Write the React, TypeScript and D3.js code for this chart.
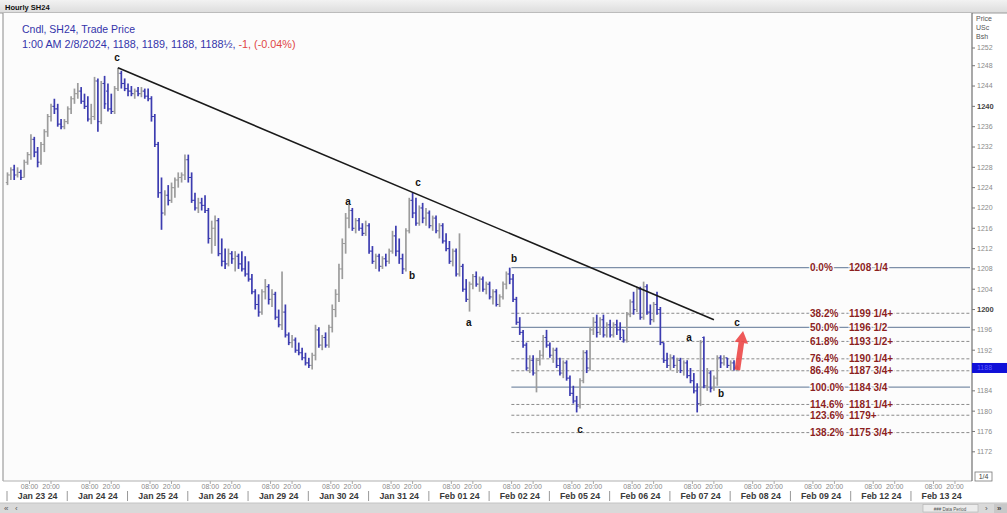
import React from "react";
import * as d3 from "d3";

type Bar = [number, number, number, number]; // open, high, low, close

const dayLabels = ["Jan 23 24", "Jan 24 24", "Jan 25 24", "Jan 26 24", "Jan 29 24", "Jan 30 24", "Jan 31 24", "Feb 01 24", "Feb 02 24", "Feb 05 24", "Feb 06 24", "Feb 07 24", "Feb 08 24", "Feb 09 24", "Feb 12 24", "Feb 13 24"];
const hourLabels = ["08:00", "20:00"];

const jan23: Bar[] = [
  [1225, 1227, 1224.5, 1226.5], [1226.5, 1228, 1225.5, 1227.5], [1227.5, 1228.5, 1225.5, 1226.5], [1226.5, 1228, 1226, 1227],
  [1227, 1227.5, 1225.5, 1226], [1226, 1229.5, 1226, 1229], [1229, 1231, 1228.5, 1230.5], [1230.5, 1234.5, 1229.5, 1233.5],
  [1233.5, 1234, 1230, 1231], [1231, 1232, 1228, 1229], [1229, 1233, 1228.5, 1232.5], [1232.5, 1235.5, 1231, 1235],
  [1235, 1238.5, 1234, 1238], [1238, 1240.5, 1237, 1240], [1240, 1241.5, 1238.5, 1239.5], [1239.5, 1240.5, 1236, 1236.5],
  [1236.5, 1237.5, 1235.5, 1236], [1236, 1237.5, 1235.5, 1237],
];
const jan24: Bar[] = [
  [1237, 1240, 1236.5, 1239.5], [1239.5, 1242, 1238.5, 1241.5], [1241.5, 1243.5, 1240.5, 1242.5], [1242.5, 1244.6, 1241.5, 1243],
  [1243, 1243.8, 1240.5, 1241], [1241, 1242.5, 1239.5, 1240], [1240, 1242, 1237, 1237.5], [1237.5, 1240.5, 1236.5, 1238],
  [1238, 1245.8, 1237.3, 1245], [1245, 1245.5, 1235, 1237], [1237, 1245, 1236.5, 1244.5], [1244.5, 1246, 1239.5, 1240.5],
  [1243, 1244.5, 1239, 1239.5], [1239.5, 1242.5, 1238.5, 1239], [1239, 1244, 1238.5, 1243.5], [1243.5, 1247.6, 1243, 1246.5],
  [1246.5, 1247, 1243.5, 1244.5], [1244.5, 1245.5, 1243, 1243.5],
];
const jan25: Bar[] = [
  [1243.5, 1244.5, 1242, 1243], [1243, 1244, 1242, 1242.5], [1242.5, 1243.5, 1241.5, 1243], [1243, 1243.8, 1242, 1242.5],
  [1242.5, 1243.8, 1241.8, 1243], [1243, 1243.5, 1241.5, 1242], [1242, 1243.5, 1241, 1241.5], [1241.5, 1242, 1237, 1238],
  [1238, 1238.5, 1232, 1232.5], [1232.5, 1233, 1222, 1223], [1223, 1226, 1215.7, 1219], [1219, 1223.5, 1218.5, 1222.5],
  [1222.5, 1224.5, 1220.5, 1221.5], [1221.5, 1225, 1221, 1224], [1224, 1226, 1222, 1225.5], [1225.5, 1227, 1224, 1226],
  [1226, 1227, 1225, 1226.5], [1226.5, 1230.5, 1225.5, 1229.5],
];
const jan26: Bar[] = [
  [1229.5, 1230.5, 1225, 1226], [1226, 1227, 1221, 1221.5], [1221.5, 1223, 1219.5, 1220], [1220, 1222, 1219, 1221],
  [1221, 1222, 1219.5, 1220.5], [1220.5, 1222.5, 1219, 1219.5], [1219.5, 1220, 1213, 1214], [1214, 1217.5, 1211, 1216],
  [1216, 1218.5, 1212.5, 1217.5], [1217.5, 1218, 1210.5, 1211], [1211, 1214, 1208.5, 1209.5], [1209.5, 1212, 1208, 1209],
  [1209, 1212, 1208.5, 1211], [1211, 1211.5, 1209, 1210], [1210, 1211.5, 1207.5, 1210.5], [1210.5, 1211, 1208, 1209],
  [1209, 1211.5, 1207.5, 1208], [1208, 1210.5, 1206.5, 1207],
];
const jan29: Bar[] = [
  [1207, 1209.5, 1205.5, 1206], [1206, 1207, 1203, 1203.5], [1203.5, 1204, 1200, 1201], [1201, 1203, 1198.6, 1199.5],
  [1199.5, 1204, 1199, 1203.5], [1203.5, 1206, 1202, 1204.5], [1204.5, 1205, 1201, 1202], [1202, 1204, 1200.5, 1203],
  [1203, 1203.5, 1198, 1198.5], [1198.5, 1200, 1196.5, 1197], [1197, 1207.5, 1196, 1199.5], [1199.5, 1201, 1194.5, 1195],
  [1195, 1195.5, 1193, 1193.5], [1193.5, 1195, 1192.5, 1194], [1194, 1194.5, 1191.5, 1192], [1192, 1193.5, 1191, 1191.5],
  [1191.5, 1192.5, 1190, 1190.5], [1190.5, 1191.5, 1189, 1189.5],
];
const jan30: Bar[] = [
  [1189.5, 1190.5, 1188.5, 1189], [1189, 1191.5, 1188.2, 1191], [1191, 1197, 1190, 1196], [1196, 1196.5, 1192.5, 1193],
  [1193, 1195, 1192, 1194.5], [1194.5, 1195.5, 1192.5, 1193], [1193, 1197, 1192.5, 1196.5], [1196.5, 1201, 1195.5, 1200],
  [1200, 1204, 1198.5, 1203], [1203, 1209, 1201.5, 1208], [1208, 1214, 1206, 1213], [1213, 1219, 1211, 1218],
  [1218, 1220.6, 1216, 1219.5], [1219.5, 1220, 1215.5, 1216], [1216, 1218, 1215, 1217.5], [1217.5, 1218, 1215.5, 1216],
  [1216, 1217, 1214.5, 1215], [1215, 1217.5, 1214.5, 1216.5],
];
const jan31: Bar[] = [
  [1216.5, 1217, 1211, 1211.5], [1211.5, 1212.5, 1209, 1209.5], [1209.5, 1211, 1208, 1210.5], [1210.5, 1211, 1207.5, 1208.5],
  [1208.5, 1210.5, 1208, 1210], [1210, 1211, 1208.5, 1209.5], [1209.5, 1212, 1209, 1211.5], [1211.5, 1215.5, 1211, 1214.5],
  [1214.5, 1216.5, 1210.5, 1211.5], [1211.5, 1214, 1209, 1210], [1210, 1211, 1207, 1208], [1208, 1216, 1207.5, 1215.5],
  [1215.5, 1222, 1215, 1221.5], [1221.5, 1223, 1218, 1219], [1219, 1222, 1216.5, 1217], [1217, 1220.5, 1216.5, 1220],
  [1220, 1221, 1217, 1218], [1218, 1220, 1216.5, 1219],
];
const feb01: Bar[] = [
  [1219, 1219.5, 1216, 1216.5], [1216.5, 1218.5, 1215.5, 1218], [1218, 1218.5, 1215, 1215.5], [1215.5, 1217, 1214, 1216.5],
  [1216.5, 1217, 1213, 1213.5], [1213.5, 1215, 1211.5, 1212], [1212, 1213.5, 1209, 1209.5], [1209.5, 1212, 1208.5, 1211.5],
  [1211.5, 1212, 1206.5, 1207], [1207, 1215, 1206.5, 1208.5], [1208.5, 1209, 1203.5, 1204], [1204, 1206, 1201.5, 1202],
  [1202, 1205.5, 1199.6, 1205], [1205, 1207, 1204, 1206.5], [1206.5, 1207.5, 1204.5, 1205], [1205, 1206.5, 1203.5, 1206],
  [1206, 1206.5, 1203.5, 1204], [1204, 1205.5, 1203, 1205],
];
const feb02: Bar[] = [
  [1205, 1205.5, 1202, 1202.5], [1202.5, 1204, 1201, 1203.5], [1203.5, 1204, 1200.6, 1201], [1201, 1203, 1200.5, 1202.5],
  [1202.5, 1205.5, 1202, 1205], [1205, 1207.5, 1204, 1207], [1207, 1208.25, 1205, 1206], [1206, 1207, 1201.5, 1202],
  [1202, 1202.5, 1197, 1197.5], [1197.5, 1198.5, 1195, 1195.5], [1195.5, 1196, 1192.5, 1193], [1193, 1193.5, 1188, 1188.5],
  [1188.5, 1191, 1187.5, 1190], [1190, 1191, 1187, 1187.5], [1187.5, 1190.5, 1183.7, 1190], [1190, 1192, 1189, 1191],
  [1191, 1195, 1190.5, 1194.5], [1194.5, 1196, 1192.5, 1193],
];
const feb05: Bar[] = [
  [1193, 1193.5, 1190.5, 1191], [1191, 1192.5, 1189.5, 1192], [1192, 1192.5, 1188.5, 1189], [1189, 1190.5, 1187, 1187.5],
  [1187.5, 1190, 1186.5, 1189.5], [1189.5, 1190, 1186, 1186.5], [1186.5, 1187, 1183, 1183.5], [1183.5, 1185, 1181.5, 1182],
  [1182, 1183, 1179.75, 1181], [1181, 1186.5, 1180.5, 1186], [1186, 1192, 1185.5, 1191.5], [1191.5, 1192, 1187.5, 1188.5],
  [1188.5, 1196.5, 1188, 1196], [1196, 1198.5, 1195, 1197.5], [1197.5, 1199, 1194.5, 1195.5], [1195.5, 1198.5, 1195, 1198],
  [1198, 1199, 1194.5, 1195], [1195, 1197.5, 1194.5, 1197],
];
const feb06: Bar[] = [
  [1197, 1198, 1194.5, 1195], [1195, 1197.5, 1194.5, 1197], [1197, 1198, 1195, 1196], [1196, 1197.5, 1194, 1194.5],
  [1196, 1196, 1193.5, 1194], [1194, 1199.5, 1193.5, 1199], [1199, 1202, 1198.5, 1201.5], [1201.5, 1203.5, 1199, 1200],
  [1200, 1204.5, 1199.5, 1204], [1204, 1204.5, 1198, 1198.5], [1198.5, 1205.5, 1198, 1204.5], [1204.5, 1205, 1199, 1199.5],
  [1199.5, 1201, 1197, 1198], [1198, 1201.5, 1197.5, 1201], [1201, 1203.5, 1199, 1200], [1200, 1200.5, 1193, 1193.5],
  [1193.5, 1193.5, 1189.5, 1190], [1190, 1191.5, 1188.5, 1189],
];
const feb07: Bar[] = [
  [1189, 1191.2, 1188, 1190.5], [1190.5, 1191, 1188.5, 1189], [1189, 1190.5, 1187.5, 1190], [1190, 1190.5, 1187.5, 1188],
  [1188, 1190, 1187, 1189.5], [1189.5, 1190, 1186.5, 1187], [1187, 1188.5, 1185.5, 1186], [1186, 1187.5, 1183.5, 1184],
  [1184, 1185.5, 1179.75, 1181.5], [1181.5, 1194, 1181, 1193.5], [1194.5, 1194.7, 1184.5, 1185], [1185, 1188.5, 1184, 1187.5],
  [1187.5, 1188, 1183.7, 1184.5], [1184.5, 1187, 1184, 1186.5], [1186.5, 1191, 1185, 1190.5], [1190.5, 1191, 1188.5, 1189.5],
  [1189.5, 1191, 1189, 1190.5], [1190.5, 1190.5, 1188.5, 1189],
];
const feb08: Bar[] = [
  [1189, 1190, 1188, 1189.5], [1189.5, 1190, 1188, 1188.5], [1188, 1189, 1188, 1188.5],
];
const sessions: Bar[][] = [jan23, jan24, jan25, jan26, jan29, jan30, jan31, feb01, feb02, feb05, feb06, feb07, feb08];

const priceTicks = [1172, 1176, 1180, 1184, 1188, 1192, 1196, 1200, 1204, 1208, 1212, 1216, 1220, 1224, 1228, 1232, 1236, 1240, 1244, 1248, 1252];
const majorTicks = [1200, 1240];

const fibPct = ["0.0%", "38.2%", "50.0%", "61.8%", "76.4%", "86.4%", "100.0%", "114.6%", "123.6%", "138.2%"];
const fibPrice = [1208.25, 1199.27, 1196.5, 1193.73, 1190.3, 1187.95, 1184.75, 1181.32, 1179.2, 1175.78];
const fibText = ["1208 1/4", "1199 1/4+", "1196 1/2", "1193 1/2+", "1190 1/4+", "1187 3/4+", "1184 3/4", "1181 1/4+", "1179+", "1175 3/4+"];
const fibSolid = [true, false, true, false, false, false, true, false, false, false];

const waveText = ["c", "a", "b", "c", "a", "b", "c", "a", "b", "c"];
const waveSlot = [32.7, 101.7, 120.8, 122.6, 137.8, 151.3, 171, 203.6, 213.1, 217.9];
const wavePrice = [1249.7, 1221.2, 1206.8, 1225.1, 1197.5, 1210, 1176.5, 1194.6, 1183.4, 1197.4];

const trendSlot = [33, 211];
const trendPrice = [1247.6, 1198];
const arrowSlot = [218, 219.7];
const arrowPrice = [1188.1, 1195.8];
const lastPrice = 1188.5;

const W = 1007, H = 513;
const BARS_PER_DAY = 18;
const UP = "#9c9c9c", DOWN = "#3c3cb0";
const SANS = "'Liberation Sans', Arial, sans-serif";

export default function App() {
  const xs = d3.scaleLinear().domain([0, 16 * BARS_PER_DAY]).range([7.5, 7.5 + 16 * BARS_PER_DAY * 3.348]);
  const ys = d3.scaleLinear().domain([1172, 1252]).range([451.8, 45.4]);

  const bars: { x: number; b: Bar }[] = [];
  sessions.forEach((day, d) => day.forEach((b, s) => bars.push({ x: xs(d * BARS_PER_DAY + s), b })));

  const plotL = 3, plotR = 972, plotT = 13, plotB = 481;
  const fibX0 = xs(150.5);

  const ax0 = xs(arrowSlot[0]), ay0 = ys(arrowPrice[0]);
  const ax1 = xs(arrowSlot[1]), ay1 = ys(arrowPrice[1]);
  const len = Math.hypot(ax1 - ax0, ay1 - ay0);
  const ux = (ax1 - ax0) / len, uy = (ay1 - ay0) / len;
  const nx = -uy, ny = ux;
  const headL = 12, sw = 2.8, hw = 6.8;
  const bx = ax1 - ux * headL, by = ay1 - uy * headL;
  const pts = [
    [ax0 + nx * sw, ay0 + ny * sw], [bx + nx * sw, by + ny * sw], [bx + nx * hw, by + ny * hw], [ax1, ay1],
    [bx - nx * hw, by - ny * hw], [bx - nx * sw, by - ny * sw], [ax0 - nx * sw, ay0 - ny * sw],
  ].map((p) => p.join(",")).join(" ");

  const line = d3.line<number>().x((_, i) => xs(trendSlot[i])).y((_, i) => ys(trendPrice[i]));

  return (
    <svg width={W} height={H} style={{ position: "fixed", left: 0, top: 0, display: "block" }} fontFamily={SANS}>
      <defs>
        <linearGradient id="topbar" x1="0" y1="0" x2="0" y2="1">
          <stop offset="0" stopColor="#f2f2f2" />
          <stop offset="1" stopColor="#dcdcdc" />
        </linearGradient>
        <clipPath id="plotclip"><rect x={plotL} y={plotT} width={plotR - plotL} height={plotB - plotT} /></clipPath>
      </defs>
      <rect x={0} y={0} width={W} height={H} fill="#ffffff" />
      <rect x={0} y={0} width={W} height={13} fill="url(#topbar)" />
      <line x1={0} x2={W} y1={13} y2={13} stroke="#9a9a9a" />
      <text x={5} y={10} fontSize={7.5} fontWeight="bold" fill="#111">Hourly SH24</text>
      <rect x={plotL} y={plotT} width={plotR - plotL} height={plotB - plotT} fill="#fcfcfc" />
      <line x1={plotL} x2={plotL} y1={plotT} y2={plotB} stroke="#8a8a8a" />
      <line x1={plotL} x2={plotR} y1={plotB} y2={plotB} stroke="#b0b0b0" />
      <line x1={plotR} x2={plotR} y1={plotT} y2={plotB} stroke="#555" />

      <g clipPath="url(#plotclip)">
        {fibPrice.map((p, i) => (
          <line key={"f" + i} x1={fibX0} x2={plotR - 2} y1={ys(p)} y2={ys(p)}
            stroke={fibSolid[i] ? "#7d8fa8" : "#8a8a8a"} strokeWidth={fibSolid[i] ? 1.2 : 1}
            strokeDasharray={fibSolid[i] ? undefined : "3,2"} />
        ))}
        {bars.map(({ x, b }, i) => {
          const [o, h, l, c] = b;
          const col = c >= o ? UP : DOWN;
          return (
            <g key={"b" + i} stroke={col}>
              <line x1={x} x2={x} y1={ys(h)} y2={ys(l)} strokeWidth={1.7} />
              <line x1={x - 1.7} x2={x} y1={ys(o)} y2={ys(o)} strokeWidth={1.1} />
              <line x1={x} x2={x + 1.7} y1={ys(c)} y2={ys(c)} strokeWidth={1.1} />
            </g>
          );
        })}
        <path d={line([0, 1]) || ""} stroke="#1a1a1a" strokeWidth={1.6} fill="none" />
        {fibPrice.map((p, i) => (
          <g key={"fl" + i} fontSize={10} fontWeight="bold" fill="#8c1f1f" stroke="#fcfcfc" strokeWidth={2.5} paintOrder="stroke">
            <text x={810} y={ys(p)} dy="0.36em">{fibPct[i]}</text>
            <text x={849} y={ys(p)} dy="0.36em">{fibText[i]}</text>
          </g>
        ))}
        {waveText.map((t, i) => (
          <text key={"w" + i} x={xs(waveSlot[i])} y={ys(wavePrice[i])} dy="0.36em" textAnchor="middle"
            fontSize={10} fontWeight="bold" fill="#111">{t}</text>
        ))}
        <polygon points={pts} fill="#ec4747" opacity={0.9} />
      </g>

      <text x={22} y={33} fontSize={11.5} fill="#3434aa" textLength={113} lengthAdjust="spacingAndGlyphs">Cndl, SH24, Trade Price</text>
      <text x={22} y={48} fontSize={10.8}>
        <tspan fill="#3434aa">1:00 AM 2/8/2024, 1188, 1189, 1188, 1188½, </tspan>
        <tspan fill="#e04646">-1, (-0.04%)</tspan>
      </text>

      <text x={976} y={21} fontSize={7} fill="#555">Price</text>
      <text x={976} y={30} fontSize={7} fill="#555">USc</text>
      <text x={976} y={39} fontSize={7} fill="#555">Bsh</text>
      {priceTicks.map((t) => {
        const major = majorTicks.includes(t);
        const y = Math.max(ys(t), 48);
        const hidden = Math.abs(ys(t) - ys(lastPrice)) < 6;
        return (
          <g key={"t" + t}>
            <line x1={plotR} x2={plotR + 3} y1={y} y2={y} stroke="#777" />
            {!hidden && (
              <text x={977} y={y} dy="0.35em" fontSize={major ? 7.5 : 7} fontWeight={major ? "bold" : "normal"}
                fill={major ? "#444" : "#8a8a8a"}>{t}</text>
            )}
          </g>
        );
      })}
      <rect x={plotR} y={ys(lastPrice) - 5} width={W - plotR} height={10} fill="#1010d8" />
      <text x={977} y={ys(lastPrice)} dy="0.35em" fontSize={7} fill="#5c5cff">1188</text>
      <rect x={975} y={472} width={17} height={9} fill="#fff" stroke="#777" strokeWidth={0.8} />
      <text x={983.5} y={479} fontSize={7} fill="#444" textAnchor="middle">1/4</text>

      {dayLabels.map((d, i) => {
        const start = xs(i * BARS_PER_DAY) - 0.5;
        const c = xs(i * BARS_PER_DAY + 9);
        return (
          <g key={"d" + i}>
            <line x1={start} x2={start} y1={491} y2={501} stroke="#999" />
            <line x1={start + 22.5} x2={start + 22.5} y1={481} y2={484} stroke="#aaa" />
            <line x1={start + 44} x2={start + 44} y1={481} y2={484} stroke="#aaa" />
            <text x={start + 22.5} y={488.5} fontSize={7} fill="#888" textAnchor="middle">{hourLabels[0]}</text>
            <text x={start + 44} y={488.5} fontSize={7} fill="#888" textAnchor="middle">{hourLabels[1]}</text>
            <text x={c} y={498.5} fontSize={8.8} fontWeight="bold" fill="#3a3a3a" textAnchor="middle">{d}</text>
          </g>
        );
      })}

      <rect x={0} y={503} width={W} height={10} fill="#d9d9d9" />
      <line x1={0} x2={W} y1={503} y2={503} stroke="#c4c4c4" />
      <text x={4} y={511} fontSize={8} fill="#555">«</text>
      <text x={15} y={511} fontSize={8} fill="#555">‹</text>
      <rect x={923} y={504.5} width={55} height={7.5} fill="#ececec" stroke="#b0b0b0" strokeWidth={0.6} />
      <text x={950} y={510.5} fontSize={4.5} fill="#555" textAnchor="middle">### Data Period</text>
      <text x={985} y={511} fontSize={8} fill="#555">›</text>
      <rect x={994} y={504} width={13} height={9} fill="#c8c8c8" />
      <text x={997} y={511} fontSize={8} fontWeight="bold" fill="#444">»</text>
    </svg>
  );
}
